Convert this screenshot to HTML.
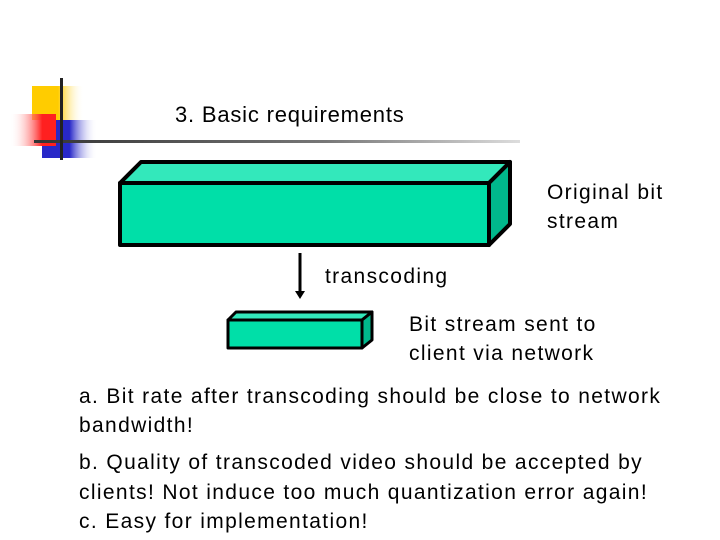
<!DOCTYPE html>
<html><head><style>
body{margin:0;width:720px;height:540px;background:#fff;position:relative;overflow:hidden;font-family:"Liberation Sans","DejaVu Sans",sans-serif;color:#000}
.t{position:absolute;font-size:21px;line-height:29px;white-space:nowrap;letter-spacing:1.35px}
</style></head><body>
<svg width="720" height="540" style="position:absolute;left:0;top:0">
<defs>
<linearGradient id="y" x1="0" x2="1"><stop offset="0.5" stop-color="#ffcc00"/><stop offset="1" stop-color="#fff" stop-opacity="0"/></linearGradient>
<linearGradient id="r" x1="1" x2="0"><stop offset="0.3" stop-color="#ff2020"/><stop offset="1" stop-color="#fff" stop-opacity="0"/></linearGradient>
<linearGradient id="b" x1="0" x2="1"><stop offset="0.5" stop-color="#2828c8"/><stop offset="1" stop-color="#fff" stop-opacity="0"/></linearGradient>
<linearGradient id="l" x1="0" x2="1"><stop offset="0" stop-color="#333"/><stop offset="0.6" stop-color="#777"/><stop offset="1" stop-color="#ddd"/></linearGradient>
</defs>
<rect x="32" y="86" width="52" height="34" fill="url(#y)"/>
<rect x="42" y="120" width="55" height="38" fill="url(#b)"/>
<rect x="10" y="114" width="46" height="32" fill="url(#r)"/>
<rect x="34" y="140" width="486" height="3" fill="url(#l)"/>
<rect x="60" y="78" width="3" height="82" fill="#222"/>
<g stroke="#000" stroke-width="4" stroke-linejoin="round">
<polygon points="120,183 141,162 510,162 489,183" fill="#33e8bb"/>
<polygon points="489,183 510,162 510,224 489,245" fill="#00b88c"/>
<rect x="120" y="183" width="369" height="62" fill="#00dfa8"/>
</g>
<g stroke="#000" stroke-width="3" stroke-linejoin="round">
<polygon points="228,320 236,312 372,312 362,320" fill="#33e8bb"/>
<polygon points="362,320 372,312 372,340 362,348" fill="#00b88c"/>
<rect x="228" y="320" width="134" height="28" fill="#00dfa8"/>
</g>
<line x1="300" y1="253" x2="300" y2="292" stroke="#000" stroke-width="3"/>
<polygon points="295,291 305,291 300,299" fill="#000"/>
</svg>
<div class="t" style="left:175px;top:100px;font-size:22px;letter-spacing:0.8px">3. Basic requirements</div>
<div class="t" style="left:547px;top:178px">Original bit<br>stream</div>
<div class="t" style="left:325px;top:262px">transcoding</div>
<div class="t" style="left:409px;top:310px">Bit stream sent to<br>client via network</div>
<div class="t" style="left:79px;top:382px">a. Bit rate after transcoding should be close to network<br>bandwidth!</div>
<div class="t" style="left:79px;top:448px;line-height:29.5px">b. Quality of transcoded video should be accepted by<br>clients! Not induce too much quantization error again!<br>c. Easy for implementation!</div>
</body></html>
